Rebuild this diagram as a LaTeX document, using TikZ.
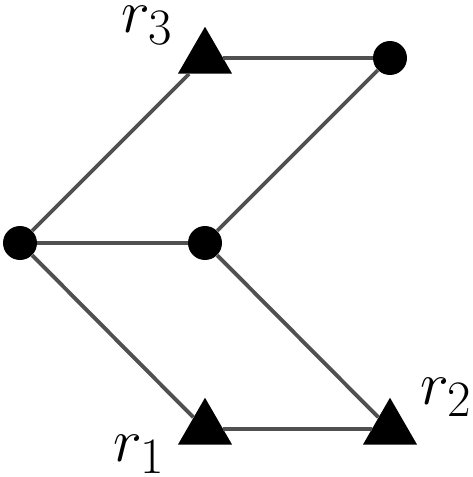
\documentclass[tikz,border=0pt]{standalone}
\usepackage{amsmath}
\usepackage{graphicx}
\usepackage{tikz}
\usetikzlibrary{shapes.geometric, positioning}
\definecolor{cEdge}{RGB}{80,80,80}
\newcommand{\rlab}[1]{\scalebox{1.4}{$#1$}}
\tikzset{
	vtx/.style  ={circle, fill=black, minimum size=0.68cm, inner sep=0pt},
	robot/.style={regular polygon, regular polygon sides=3, fill=black, minimum size=1.25cm, inner sep=0pt},
	conn/.style ={line width=2.2pt, cEdge},
	lbl/.style  ={font=\Huge, inner sep=0pt},
}
\begin{document}
\begin{tikzpicture}[x=0.02cm, y=-0.02cm]
	\useasboundingbox (0,0) rectangle (473,477);
	% vertices
	\node[vtx]   (v1) at (20,243) {};
	\node[vtx]   (v2) at (205,243) {};
	\node[vtx]   (v3) at (390,58) {};
	\node[robot] (r3) at (205,58) {};
	\node[robot] (r1) at (205,429) {};
	\node[robot] (r2) at (390,429) {};
	% edges
	\draw[conn] (v1) -- (r3);
	\draw[conn] (r3) -- (v3);
	\draw[conn] (v3) -- (v2);
	\draw[conn] (v1) -- (v2);
	\draw[conn] (v1) -- (r1);
	\draw[conn] (r1) -- (r2);
	\draw[conn] (v2) -- (r2);
	% labels
	\node[lbl] (l3) at (147,25) {\rlab{r_3}};
	\node[lbl] (l1) at (139,454) {\rlab{r_1}};
	\node[lbl] (l2) at (446,397) {\rlab{r_2}};
\end{tikzpicture}
\end{document}
